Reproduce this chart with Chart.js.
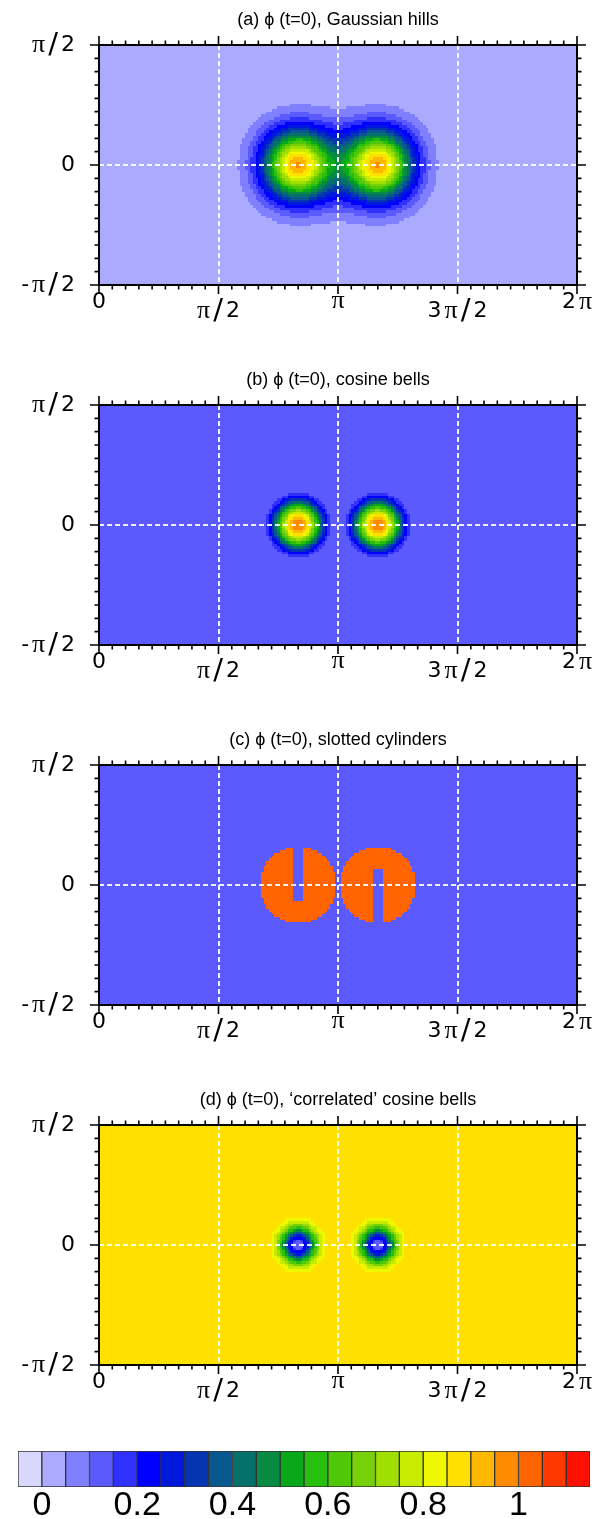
<!DOCTYPE html>
<html>
<head>
<meta charset="utf-8">
<script src="https://cdn.jsdelivr.net/npm/chart.js@4.4.0/dist/chart.umd.min.js"></script>
<style>
  html, body { margin: 0; padding: 0; background: #fff; }
  body { width: 602px; height: 1519px; overflow: hidden; position: relative; }
  canvas { position: absolute; left: 0; display: block; }
</style>
</head>
<body>
<div id="app"></div>
<script>
// panel titles
const titles = [
  '(a) ϕ (t=0), Gaussian hills',
  '(b) ϕ (t=0), cosine bells',
  '(c) ϕ (t=0), slotted cylinders',
  '(d) ϕ (t=0), ‘correlated’ cosine bells'
];

// axes (degrees) and their labels
const lonTicks = [0, 90, 180, 270, 360];
const lonLabels = ['0', 'π/2', 'π', '3π/2', '2π'];
const latTicks = [-90, 0, 90];
const latLabels = ['-π/2', '0', 'π/2'];

// the two features, centres (degrees)
const hillLon = [150, 210];
const hillLat = [0, 0];

// (a) gaussian hills
const gaussPeak = [0.95, 0.95];
const gaussWidth = [5, 5];
// (b) cosine bells, radius in radians
const bellRadius = [0.5, 0.5];
const bellBase = 0.1;
const bellAmp = 0.9;
// (c) slotted cylinders
const cylInside = 1.0;
const cylOutside = 0.1;
const slotHalfWidth = 1 / 6;   // fraction of radius
const slotDepth = 5 / 12;      // fraction of radius
const slotSide = [1, -1];      // left one open to the north, right one to the south
// (d) correlated: a*phi^2 + b
const corrCoef = [-0.8, 0.9];

// colour bar
const levels = [0, 0.05, 0.1, 0.15, 0.2, 0.25, 0.3, 0.35, 0.4, 0.45, 0.5, 0.55,
  0.6, 0.65, 0.7, 0.75, 0.8, 0.85, 0.9, 0.95, 1.0, 1.05, 1.1];
const colors = ['#d8d8ff', '#aaaaff', '#8080ff', '#5a5aff', '#3030ff', '#0000ff',
  '#0018dc', '#0535b0', '#08588f', '#06706a', '#078b42', '#08a81a',
  '#28c00e', '#50c808', '#78d00a', '#a0e000', '#c8ec00', '#f0f800',
  '#ffe000', '#ffb800', '#ff8c00', '#ff6400', '#ff3800', '#ff1000'];
const barTicks = [0, 0.2, 0.4, 0.6, 0.8, 1];
const barMin = -0.05, barMax = 1.15;

const gridStep = 2; // degrees

const rad = d => d * Math.PI / 180;

function distance(lon, lat, i) {
  const c = Math.sin(rad(hillLat[i])) * Math.sin(rad(lat)) +
    Math.cos(rad(hillLat[i])) * Math.cos(rad(lat)) * Math.cos(rad(lon - hillLon[i]));
  return Math.acos(Math.max(-1, Math.min(1, c)));
}

function gaussian(lon, lat) {
  const X = Math.cos(rad(lat)) * Math.cos(rad(lon));
  const Y = Math.cos(rad(lat)) * Math.sin(rad(lon));
  const Z = Math.sin(rad(lat));
  let s = 0;
  for (let i = 0; i < hillLon.length; i++) {
    const xi = Math.cos(rad(hillLat[i])) * Math.cos(rad(hillLon[i]));
    const yi = Math.cos(rad(hillLat[i])) * Math.sin(rad(hillLon[i]));
    const zi = Math.sin(rad(hillLat[i]));
    const d2 = (X - xi) ** 2 + (Y - yi) ** 2 + (Z - zi) ** 2;
    s += gaussPeak[i] * Math.exp(-gaussWidth[i] * d2);
  }
  return s;
}

function bells(lon, lat) {
  let s = 0;
  for (let i = 0; i < hillLon.length; i++) {
    const r = distance(lon, lat, i);
    if (r < bellRadius[i]) s += 0.5 * (1 + Math.cos(Math.PI * r / bellRadius[i]));
  }
  return bellBase + bellAmp * s;
}

function cylinders(lon, lat) {
  for (let i = 0; i < hillLon.length; i++) {
    const R = bellRadius[i];
    if (distance(lon, lat, i) > R) continue;
    const dl = Math.abs(rad(lon - hillLon[i]));
    const dp = rad(lat - hillLat[i]);
    if (dl >= R * slotHalfWidth) return cylInside;
    if (slotSide[i] > 0 ? dp < -slotDepth * R : dp > slotDepth * R) return cylInside;
  }
  return cylOutside;
}

function correlated(lon, lat) {
  const b = bells(lon, lat);
  return corrCoef[0] * b * b + corrCoef[1];
}

const fields = [gaussian, bells, cylinders, correlated];

function colorFor(v) {
  let k = 0;
  while (k < levels.length && v >= levels[k] - 1e-9) k++;
  return colors[k];
}

const FONT = "'Liberation Sans', 'DejaVu Sans', sans-serif";

// axis label: sans digits, serif pi, tall slash, spread out like the original
function drawLabel(ctx, text, x, y, align) {
  const chars = [...text];
  const gap = 3;
  const fontOf = c => c === 'π' ? "26px 'Liberation Serif', serif"
    : c === '/' ? "29px 'DejaVu Sans', sans-serif"
    : "22px 'DejaVu Sans', sans-serif";
  const widths = chars.map(c => { ctx.font = fontOf(c); return ctx.measureText(c).width; });
  const total = widths.reduce((s, w) => s + w, 0) + gap * (chars.length - 1);
  let cx = align === 'right' ? x - total : x - total / 2;
  ctx.textAlign = 'left';
  chars.forEach((c, i) => {
    ctx.font = fontOf(c);
    ctx.fillText(c, cx, y);
    cx += widths[i] + gap;
  });
}

// fill each grid cell at the scale position of its bounds
const cellPlugin = {
  id: 'cells',
  beforeDatasetsDraw(chart) {
    const { ctx, chartArea } = chart;
    const { x, y } = chart.scales;
    const data = chart.data.datasets[0].data;
    const h = gridStep / 2;
    ctx.save();
    ctx.beginPath();
    ctx.rect(chartArea.left, chartArea.top, chartArea.width, chartArea.height);
    ctx.clip();
    data.forEach(d => {
      const x0 = Math.round(x.getPixelForValue(d.x - h));
      const x1 = Math.round(x.getPixelForValue(d.x + h));
      const y0 = Math.round(y.getPixelForValue(d.y + h));
      const y1 = Math.round(y.getPixelForValue(d.y - h));
      ctx.fillStyle = colorFor(d.v);
      ctx.fillRect(x0, y0, x1 - x0, y1 - y0);
    });
    ctx.restore();
  }
};

// frame, ticks, dashed grid, labels, title
const lonLabelShift = [17, 26, 16, 26, 17];
const framePlugin = {
  id: 'frame',
  afterDraw(chart) {
    const { ctx, chartArea: a } = chart;
    const { x, y } = chart.scales;
    ctx.save();

    ctx.strokeStyle = 'rgba(255,255,255,0.92)';
    ctx.lineWidth = 2;
    ctx.setLineDash([5, 3]);
    lonTicks.slice(1, -1).forEach(v => {
      const px = Math.round(x.getPixelForValue(v));
      ctx.beginPath(); ctx.moveTo(px, a.top); ctx.lineTo(px, a.bottom); ctx.stroke();
    });
    latTicks.slice(1, -1).forEach(v => {
      const py = Math.round(y.getPixelForValue(v));
      ctx.beginPath(); ctx.moveTo(a.left, py); ctx.lineTo(a.right, py); ctx.stroke();
    });
    ctx.setLineDash([]);

    ctx.strokeStyle = '#000';
    ctx.lineWidth = 2;
    ctx.strokeRect(a.left, a.top, a.width, a.height);

    ctx.lineWidth = 1.6;
    ctx.beginPath();
    for (let v = 0; v <= 360; v += 10) {
      const px = x.getPixelForValue(v);
      const len = v % 90 === 0 ? 9 : 4.5;
      ctx.moveTo(px, a.bottom); ctx.lineTo(px, a.bottom + len);
      ctx.moveTo(px, a.top); ctx.lineTo(px, a.top - len);
    }
    for (let v = -90; v <= 90; v += 10) {
      const py = y.getPixelForValue(v);
      const len = v % 90 === 0 ? 9 : 4.5;
      ctx.moveTo(a.left, py); ctx.lineTo(a.left - len, py);
      ctx.moveTo(a.right, py); ctx.lineTo(a.right + len, py);
    }
    ctx.stroke();

    ctx.fillStyle = '#000';
    ctx.textBaseline = 'middle';
    latTicks.forEach((v, i) => drawLabel(ctx, latLabels[i], a.left - 24, y.getPixelForValue(v), 'right'));
    lonTicks.forEach((v, i) => drawLabel(ctx, lonLabels[i], x.getPixelForValue(v), a.bottom + lonLabelShift[i], 'center'));

    ctx.textAlign = 'center';
    ctx.font = '18px ' + FONT;
    ctx.fillText(chart.options.panelTitle, (a.left + a.right) / 2, 20);
    ctx.restore();
  }
};

function panel(k) {
  const cv = document.createElement('canvas');
  cv.width = 602; cv.height = 360;
  cv.style.top = (k * 360) + 'px';
  document.body.appendChild(cv);

  const cells = [];
  for (let lat = -90 + gridStep / 2; lat < 90; lat += gridStep) {
    for (let lon = gridStep / 2; lon < 360; lon += gridStep) {
      cells.push({ x: lon, y: lat, v: fields[k](lon, lat) });
    }
  }

  new Chart(cv, {
    type: 'scatter',
    data: { datasets: [{ data: cells, pointRadius: 0, pointHoverRadius: 0 }] },
    options: {
      panelTitle: titles[k],
      responsive: false,
      animation: false,
      events: [],
      layout: { padding: { left: 99, right: 25, top: 45, bottom: 75 } },
      plugins: { legend: { display: false }, tooltip: { enabled: false } },
      scales: {
        x: { type: 'linear', min: 0, max: 360, display: false },
        y: { type: 'linear', min: -90, max: 90, display: false }
      }
    },
    plugins: [cellPlugin, framePlugin]
  });
}

for (let k = 0; k < 4; k++) panel(k);

// colour bar
const cb = document.createElement('canvas');
cb.width = 602; cb.height = 110;
cb.style.top = '1420px';
document.body.appendChild(cb);

new Chart(cb, {
  type: 'bar',
  data: {
    labels: [''],
    datasets: colors.map((c, i) => ({
      data: [[i === 0 ? barMin : levels[i - 1], i === colors.length - 1 ? barMax : levels[i]]],
      backgroundColor: c,
      borderColor: '#333',
      borderWidth: 1,
      borderSkipped: false,
      grouped: false,
      barPercentage: 1,
      categoryPercentage: 1
    }))
  },
  options: {
    indexAxis: 'y',
    responsive: false,
    animation: false,
    events: [],
    layout: { padding: { left: 18, right: 12, top: 31, bottom: 7 } },
    plugins: { legend: { display: false }, tooltip: { enabled: false } },
    scales: {
      y: { display: false },
      x: {
        type: 'linear', min: barMin, max: barMax,
        grid: { display: false, drawTicks: false },
        border: { display: false },
        afterBuildTicks: axis => { axis.ticks = barTicks.map(v => ({ value: v })); },
        ticks: {
          padding: 2,
          color: '#000',
          font: { family: FONT, size: 34, lineHeight: 1 },
          maxRotation: 0,
          autoSkip: false,
          callback: v => String(v)
        }
      }
    }
  }
});
</script>
</body>
</html>
